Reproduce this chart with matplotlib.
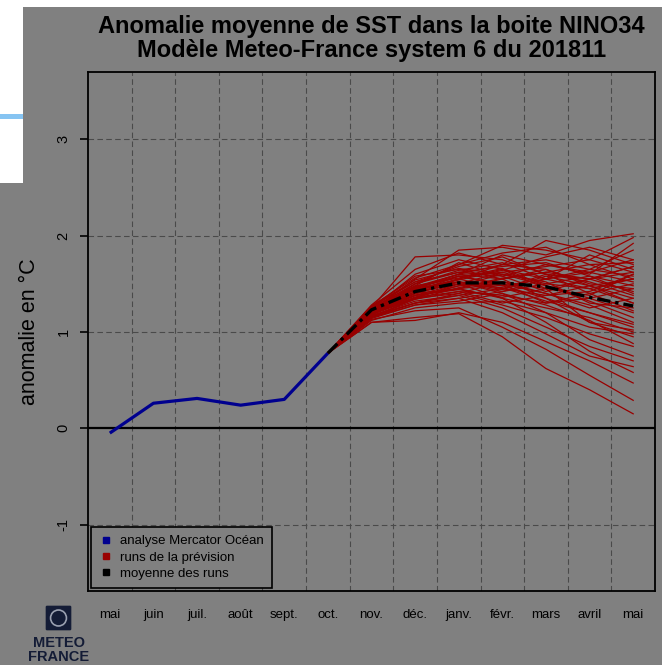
import matplotlib.pyplot as plt
from matplotlib.lines import Line2D
from matplotlib.patches import Rectangle, FancyBboxPatch, Circle

# Mois affichés (mai 2018 -> mai 2019)
mois = ['mai', 'juin', 'juil.', 'août', 'sept.', 'oct.', 'nov.', 'déc.',
        'janv.', 'févr.', 'mars', 'avril', 'mai']

# Analyse Mercator Océan (mai -> oct.)
analyse = [-0.05, 0.26, 0.31, 0.24, 0.30, 0.78]

# Moyenne des runs (oct. -> mai)
moyenne = [0.78, 1.23, 1.42, 1.51, 1.51, 1.47, 1.36, 1.27]

# Runs de la prévision (nov. -> mai), départ commun depuis oct.
runs = [
    [1.25, 1.78, 1.80, 1.75, 1.60, 1.55, 1.62],
    [1.22, 1.55, 1.85, 1.88, 1.80, 1.95, 2.02],
    [1.20, 1.50, 1.70, 1.90, 1.85, 1.75, 1.98],
    [1.28, 1.65, 1.82, 1.70, 1.95, 1.85, 1.70],
    [1.18, 1.45, 1.60, 1.80, 1.70, 1.60, 1.92],
    [1.24, 1.60, 1.75, 1.65, 1.55, 1.80, 1.65],
    [1.21, 1.40, 1.55, 1.70, 1.75, 1.65, 1.58],
    [1.26, 1.58, 1.65, 1.55, 1.62, 1.70, 1.72],
    [1.15, 1.35, 1.50, 1.62, 1.50, 1.45, 1.55],
    [1.23, 1.48, 1.72, 1.58, 1.42, 1.55, 1.68],
    [1.19, 1.38, 1.45, 1.55, 1.65, 1.50, 1.45],
    [1.27, 1.52, 1.68, 1.78, 1.60, 1.40, 1.50],
    [1.20, 1.42, 1.58, 1.48, 1.55, 1.62, 1.75],
    [1.16, 1.30, 1.40, 1.52, 1.45, 1.38, 1.60],
    [1.24, 1.50, 1.62, 1.68, 1.72, 1.58, 1.40],
    [1.22, 1.44, 1.55, 1.45, 1.38, 1.48, 1.55],
    [1.18, 1.36, 1.48, 1.60, 1.52, 1.30, 1.25],
    [1.25, 1.46, 1.52, 1.42, 1.50, 1.58, 1.48],
    [1.21, 1.40, 1.45, 1.50, 1.40, 1.25, 1.35],
    [1.14, 1.28, 1.35, 1.42, 1.55, 1.45, 1.30],
    [1.23, 1.47, 1.60, 1.55, 1.35, 1.20, 1.05],
    [1.19, 1.34, 1.42, 1.38, 1.30, 1.35, 1.45],
    [1.26, 1.54, 1.66, 1.60, 1.48, 1.32, 1.15],
    [1.17, 1.32, 1.38, 1.45, 1.60, 1.52, 1.38],
    [1.22, 1.38, 1.50, 1.35, 1.25, 1.15, 1.00],
    [1.20, 1.42, 1.55, 1.65, 1.45, 1.10, 0.95],
    [1.12, 1.25, 1.30, 1.32, 1.20, 1.05, 0.98],
    [1.24, 1.45, 1.58, 1.50, 1.30, 1.40, 1.22],
    [1.18, 1.35, 1.40, 1.28, 1.15, 0.98, 0.85],
    [1.21, 1.40, 1.52, 1.40, 1.20, 0.92, 0.75],
    [1.15, 1.30, 1.38, 1.25, 1.05, 0.85, 0.70],
    [1.10, 1.12, 1.20, 1.10, 0.90, 0.70, 0.47],
    [1.13, 1.22, 1.25, 1.05, 0.82, 0.55, 0.29],
    [1.10, 1.15, 1.19, 0.95, 0.62, 0.40, 0.15],
    [1.20, 1.38, 1.45, 1.35, 1.10, 0.80, 0.58],
    [1.17, 1.30, 1.35, 1.20, 0.98, 0.75, 0.64],
    [1.23, 1.44, 1.52, 1.48, 1.35, 1.10, 1.02],
    [1.19, 1.36, 1.48, 1.52, 1.40, 1.28, 1.10],
    [1.25, 1.50, 1.64, 1.72, 1.55, 1.65, 1.85],
    [1.27, 1.56, 1.70, 1.82, 1.88, 1.70, 1.55],
    [1.22, 1.46, 1.58, 1.62, 1.68, 1.75, 1.62],
    [1.16, 1.34, 1.46, 1.56, 1.62, 1.55, 1.42],
    [1.20, 1.40, 1.52, 1.44, 1.58, 1.48, 1.30],
    [1.24, 1.48, 1.56, 1.66, 1.48, 1.35, 1.20],
    [1.18, 1.38, 1.44, 1.36, 1.45, 1.55, 1.68],
    [1.26, 1.52, 1.62, 1.58, 1.70, 1.62, 1.52],
    [1.21, 1.42, 1.50, 1.46, 1.32, 1.20, 1.08],
    [1.15, 1.28, 1.32, 1.40, 1.28, 1.12, 0.88],
    [1.23, 1.46, 1.60, 1.70, 1.65, 1.48, 1.35],
    [1.19, 1.36, 1.42, 1.30, 1.38, 1.42, 1.60],
    [1.22, 1.44, 1.54, 1.64, 1.78, 1.88, 1.75],
]

gris = '#808080'
bleu = '#00008f'
rouge = '#990000'

plt.rcParams['font.family'] = ['Liberation Sans', 'DejaVu Sans']

W, H = 662, 665
fig = plt.figure(figsize=(W / 100, H / 100), dpi=100, facecolor=gris)
ax = fig.add_axes([88 / W, 1 - 591 / H, (655 - 88) / W, (591 - 72) / H])
ax.set_facecolor(gris)

x = list(range(len(mois)))
i0 = len(analyse) - 1

# Runs
for r in runs:
    ax.plot(x[i0:], [analyse[-1]] + r, color=rouge, lw=0.9, zorder=3)

# Analyse
ax.plot(x[:len(analyse)], analyse, color=bleu, lw=2.3, zorder=4,
        solid_capstyle='butt')

# Moyenne
ax.plot(x[i0:], moyenne, color='black', lw=2.4, zorder=5,
        dashes=(4, 1.5, 1, 1.5))

ax.set_xlim(-0.5, len(mois) - 0.5)
ax.set_ylim(-1.69, 3.70)

# grille
for xv in range(len(mois) - 1):
    ax.axvline(xv + 0.5, color='#4a4a4a', lw=0.8, ls=(0, (5, 3)), zorder=1)
for yv in [-1, 1, 2, 3]:
    ax.axhline(yv, color='#4a4a4a', lw=0.8, ls=(0, (5, 3)), zorder=1)
ax.axhline(0, color='black', lw=1.6, zorder=2)

ax.set_xticks(x)
ax.set_xticklabels(mois, fontsize=9.5)
ax.tick_params(axis='x', length=0, pad=13)
ax.set_yticks([-1, 0, 1, 2, 3])
ax.set_yticklabels(['-1', '0', '1', '2', '3'], rotation=90, va='center',
                   fontsize=10.5)
ax.tick_params(axis='y', length=5.5, width=1.2, pad=7)
for s in ax.spines.values():
    s.set_linewidth(1.3)

ax.set_ylabel('anomalie en °C', fontsize=15.5, labelpad=12)

ax.set_title('Anomalie moyenne de SST dans la boite NINO34\n'
             'Modèle Meteo-France system 6 du 201811',
             fontsize=17, fontweight='bold', linespacing=1.05, pad=11)

handles = [
    Line2D([], [], marker='s', ls='', color=bleu, markersize=4),
    Line2D([], [], marker='s', ls='', color=rouge, markersize=4),
    Line2D([], [], marker='s', ls='', color='black', markersize=4),
]
leg = ax.legend(handles, ['analyse Mercator Océan', 'runs de la prévision',
                          'moyenne des runs'],
                loc='lower left', fontsize=9.5, frameon=True, fancybox=False,
                borderaxespad=0.25, handletextpad=0.6, handlelength=1,
                labelspacing=0.3, borderpad=0.6)
leg.get_frame().set_facecolor(gris)
leg.get_frame().set_edgecolor('black')
leg.get_frame().set_linewidth(1.2)
leg.get_frame().set_alpha(1)
leg.set_zorder(10)

# zone blanche en haut à gauche (capture d'écran)
fig.patches.append(Rectangle((0, 1 - 7 / H), 1, 7 / H, transform=fig.transFigure,
                             facecolor='white', edgecolor='none'))
fig.patches.append(Rectangle((0, 1 - 183 / H), 23 / W, 183 / H,
                             transform=fig.transFigure,
                             facecolor='white', edgecolor='none'))
fig.patches.append(Rectangle((0, 1 - 119 / H), 23 / W, 5 / H,
                             transform=fig.transFigure,
                             facecolor='#86c4f2', edgecolor='none'))

# logo Meteo-France
navy = '#141c36'
fig.patches.append(FancyBboxPatch((47 / W, 1 - 629 / H), 23 / W, 22 / H,
                                  boxstyle='round,pad=0.002',
                                  transform=fig.transFigure,
                                  facecolor=navy, edgecolor='none'))
fig.patches.append(Circle((58.5 / W, 1 - 618 / H), 0.012,
                          transform=fig.transFigure, facecolor='none',
                          edgecolor='#9aa0b0', lw=1.2))
fig.text(58.5 / W, 1 - 643 / H, 'METEO', ha='center', va='center',
         fontsize=10.5, fontweight='bold', color=navy)
fig.text(58.5 / W, 1 - 657 / H, 'FRANCE', ha='center', va='center',
         fontsize=10.5, fontweight='bold', color=navy)

fig.savefig('out.png', dpi=100, facecolor=gris)
